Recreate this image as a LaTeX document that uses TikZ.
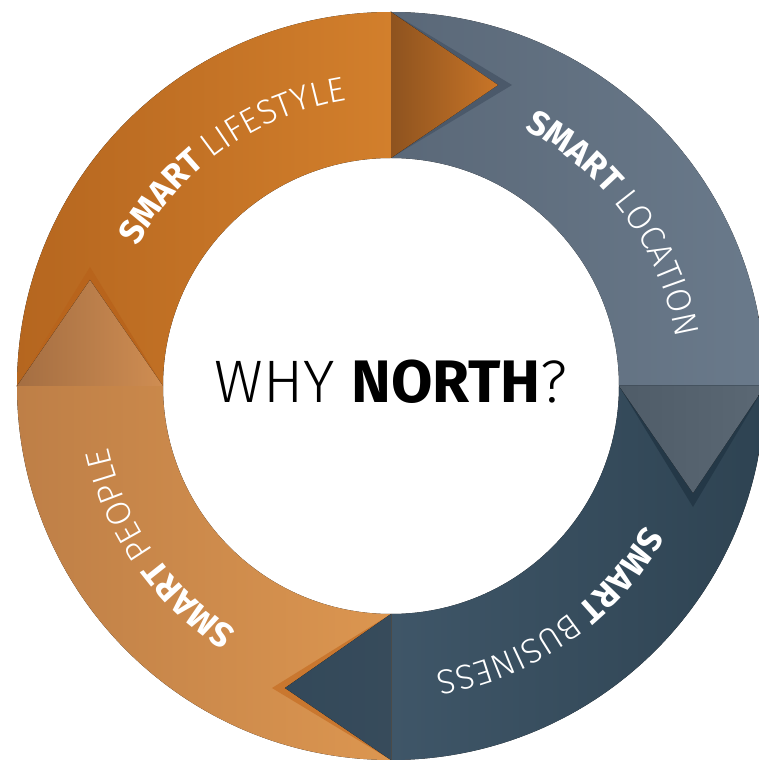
\documentclass[tikz,border=0pt]{standalone}
\usepackage{fontspec}
\setmainfont{Fira Sans}[UprightFont={* Light},BoldFont={* Bold}]
\usetikzlibrary{decorations.text}

\definecolor{lifeleft}{HTML}{B5661F}
\definecolor{liferight}{HTML}{D27F2C}
\definecolor{locleft}{HTML}{5A6878}
\definecolor{locright}{HTML}{6A7A8B}
\definecolor{busleft}{HTML}{3F5668}
\definecolor{busright}{HTML}{2E4352}
\definecolor{peoleft}{HTML}{BE7F47}
\definecolor{peoright}{HTML}{DC9650}

\newcommand\ringbold{\fontsize{34.5}{34.5}\selectfont\bfseries}
\newcommand\ringlight{\fontsize{34.5}{34.5}\selectfont\mdseries}

\begin{document}
\begin{tikzpicture}[x=1pt,y=1pt]

\tikzstyle{ringtext}=[decorate,decoration={text along path,text align=center,text color=white}]
\tikzstyle{title}=[inner sep=0pt,font=\fontsize{60}{60}\selectfont]

\useasboundingbox (-391,-374) rectangle (368,386);
\begin{scope}
\clip (-391,-374) rectangle (368,386);

% ring quarters
\fill[left color=lifeleft,right color=liferight] (90:374) arc[start angle=90,end angle=180,radius=374] -- (180:228) arc[start angle=180,end angle=90,radius=228] -- cycle;
\fill[left color=locleft,right color=locright] (0:374) arc[start angle=0,end angle=90,radius=374] -- (90:228) arc[start angle=90,end angle=0,radius=228] -- cycle;
\fill[left color=busleft,right color=busright] (-90:374) arc[start angle=-90,end angle=0,radius=374] -- (0:228) arc[start angle=0,end angle=-90,radius=228] -- cycle;
\fill[left color=peoleft,right color=peoright] (180:374) arc[start angle=180,end angle=270,radius=374] -- (270:228) arc[start angle=270,end angle=180,radius=228] -- cycle;

% shadows under the arrow heads
\fill[fill={rgb,255:red,75;green,89;blue,106}] (0,374) -- (121,301) -- (0,228) -- cycle;
\fill[fill={rgb,255:red,36;green,56;blue,71}] (228,0) -- (302,-121) -- (374,0) -- cycle;
\fill[fill={rgb,255:red,201;green,119;blue,47}] (0,-228) -- (-119,-302) -- (0,-374) -- cycle;
\fill[fill={rgb,255:red,184;green,100;blue,28}] (-374,0) -- (-301,119) -- (-228,0) -- cycle;

% arrow heads
\fill[left color={rgb,255:red,142;green,83;blue,31},right color={rgb,255:red,201;green,117;blue,39}] (0,374) -- (107,301) -- (0,228) -- cycle;
\fill[left color={rgb,255:red,79;green,92;blue,104},right color={rgb,255:red,91;green,104;blue,116}] (228,0) -- (302,-107) -- (374,0) -- cycle;
\fill[left color={rgb,255:red,51;green,73;blue,90},right color={rgb,255:red,55;green,75;blue,91}] (0,-228) -- (-106,-302) -- (0,-374) -- cycle;
\fill[left color={rgb,255:red,164;green,110;blue,66},right color={rgb,255:red,207;green,141;blue,82}] (-374,0) -- (-301,106) -- (-228,0) -- cycle;

\end{scope}

% curved labels
\path[ringtext,decoration={text={|\ringbold|SMART |\ringlight|LIFESTYLE}}] (166:289) arc[start angle=166,end angle=84,radius=289];
\path[ringtext,decoration={text={|\ringbold|SMART |\ringlight|LOCATION}}] (77:289) arc[start angle=77,end angle=-5,radius=289];
\path[ringtext,decoration={text={|\ringbold|SMART |\ringlight|BUSINESS}}] (-14:289) arc[start angle=-14,end angle=-96,radius=289];
\path[ringtext,decoration={text={|\ringbold|SMART |\ringlight|PEOPLE}}] (256:289) arc[start angle=256,end angle=174,radius=289];

\node[title] (title) at (0,4) {WHY \textbf{NORTH}?};

\end{tikzpicture}
\end{document}
